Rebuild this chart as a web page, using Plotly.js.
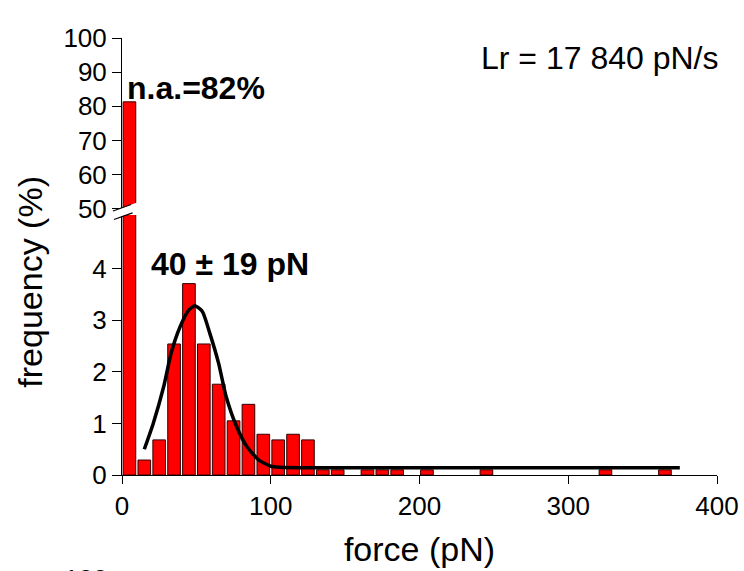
<!DOCTYPE html>
<html><head><meta charset="utf-8">
<script src="https://cdn.plot.ly/plotly-3.0.1.min.js"></script>
<style>html,body{margin:0;padding:0;background:#fff}</style>
</head><body><div id="chart" style="width:744px;height:571px"></div>
<script>
// histogram bins (bin centres, pN) and frequencies (%)
const binCenters = [5,15,25,35,45,55,65,75,85,95,105,115,125,135,145,165,175,185,205,245,325,365];
const freqValues = [81.3,0.29,0.68,2.54,3.71,2.54,1.76,1.05,1.37,0.79,0.68,0.79,0.68,0.1,0.1,0.1,0.1,0.1,0.1,0.1,0.1,0.1];
// not-adhered bin shown on the upper (broken) axis
const naBin = [5];
const naValue = [81.3];
// fitted curve
const fitForce = [15,21,28,33,39,45,49,54,59,65,70,77,84,92,100,106,130,200,300,375];
const fitFreq  = [0.50,1.0,1.71,2.36,2.87,3.20,3.28,3.17,2.75,2.16,1.52,0.94,0.55,0.29,0.17,0.15,0.14,0.14,0.14,0.14];
const xTicks = [0,100,200,300,400];
const yLowTicks = [0,1,2,3,4];
const yHighTicks = [50,60,70,80,90,100];

const FONT = 'Arial, "Liberation Sans", sans-serif';
const L = 122, R = 716.7, T = 38, B = 475;
const px = p => (p - L) / (R - L);
const py = p => (B - p) / (B - T);

const barStyle = {color: '#ff0000', line: {color: 'rgb(50,0,0)', width: 1}};
const traces = [
  {type: 'bar', x: binCenters, y: freqValues, width: 8.5, marker: barStyle, xaxis: 'x', yaxis: 'y', hoverinfo: 'skip'},
  {type: 'bar', x: naBin, y: naValue, width: 8.5, marker: barStyle, xaxis: 'x', yaxis: 'y2', hoverinfo: 'skip'},
  {type: 'scatter', mode: 'lines', x: fitForce, y: fitFreq, line: {color: '#000', width: 3.5, shape: 'spline', smoothing: 0.6}, xaxis: 'x', yaxis: 'y', hoverinfo: 'skip'}
];

const axisCommon = {showgrid: false, zeroline: false, showline: true, linecolor: '#000', linewidth: 1,
  ticks: 'outside', tickcolor: '#000', tickwidth: 1, tickfont: {family: FONT, size: 26, color: '#000'}};

const layout = {
  width: 744, height: 571,
  margin: {l: L, r: 744 - R, t: T, b: 571 - B},
  paper_bgcolor: '#fff', plot_bgcolor: 'rgba(0,0,0,0)',
  showlegend: false, barmode: 'overlay',
  font: {family: FONT, color: '#000'},
  xaxis: Object.assign({}, axisCommon, {range: [0, 400], tickvals: xTicks, ticklen: 8, anchor: 'y',
    title: {text: 'force (pN)', font: {family: FONT, size: 34, color: '#000'}, standoff: 16}}),
  yaxis: Object.assign({}, axisCommon, {domain: [0, py(215)], range: [0, 5.04], tickvals: yLowTicks, ticklen: 9, anchor: 'x'}),
  yaxis2: Object.assign({}, axisCommon, {domain: [py(208.7), 1], range: [50, 100], tickvals: yHighTicks, ticklen: 9, anchor: 'x'}),
  annotations: [
    {xref: 'paper', yref: 'paper', x: px(599), y: py(58), text: 'Lr = 17 840 pN/s', showarrow: false, xanchor: 'center', yanchor: 'middle', font: {family: FONT, size: 32}},
    {xref: 'paper', yref: 'paper', x: px(196), y: py(88), text: '<b>n.a.=82%</b>', showarrow: false, xanchor: 'center', yanchor: 'middle', font: {family: FONT, size: 32}},
    {xref: 'paper', yref: 'paper', x: px(230), y: py(264), text: '<b>40 ± 19 pN</b>', showarrow: false, xanchor: 'center', yanchor: 'middle', font: {family: FONT, size: 32}},
    {xref: 'paper', yref: 'paper', x: px(30), y: py(281.7), text: 'frequency (%)', textangle: -90, showarrow: false, xanchor: 'center', yanchor: 'middle', font: {family: FONT, size: 34}},
    {xref: 'paper', yref: 'paper', x: px(85.5), y: py(562), text: '100', showarrow: false, xanchor: 'center', yanchor: 'top', font: {family: FONT, size: 26}}
  ],
  shapes: [
    {type: 'path', xref: 'paper', yref: 'paper', layer: 'above',
     path: 'M ' + px(114) + ' ' + py(210.7) + ' L ' + px(137) + ' ' + py(202.4) + ' L ' + px(137) + ' ' + py(210.7) + ' L ' + px(114) + ' ' + py(219.3) + ' Z',
     fillcolor: '#fff', line: {width: 0}},
    {type: 'line', xref: 'paper', yref: 'paper', layer: 'above', x0: px(113), y0: py(211), x1: px(131), y1: py(204.5), line: {color: '#000', width: 1.3}},
    {type: 'line', xref: 'paper', yref: 'paper', layer: 'above', x0: px(114), y0: py(219.5), x1: px(132.5), y1: py(212.8), line: {color: '#000', width: 1.3}}
  ]
};

Plotly.newPlot('chart', traces, layout, {staticPlot: true, displayModeBar: false});
</script></body></html>
